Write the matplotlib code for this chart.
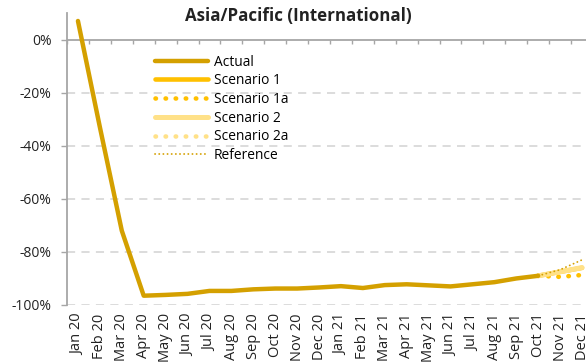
import numpy as np
import matplotlib as mpl
import matplotlib.pyplot as plt

mpl.rcParams.update({
    "font.family": ["Open Sans", "DejaVu Sans"],
    "font.size": 10,
})

months = ["Jan 20", "Feb 20", "Mar 20", "Apr 20", "May 20", "Jun 20", "Jul 20",
          "Aug 20", "Sep 20", "Oct 20", "Nov 20", "Dec 20", "Jan 21", "Feb 21",
          "Mar 21", "Apr 21", "May 21", "Jun 21", "Jul 21", "Aug 21", "Sep 21",
          "Oct 21", "Nov 21", "Dec 21"]

# actual, Jan 20 .. Oct 21 (% change)
actual = [7, -33, -72, -96.5, -96.2, -95.8, -94.7, -94.7, -94.1, -93.8, -93.8,
          -93.4, -92.9, -93.6, -92.5, -92.2, -92.6, -93.0, -92.2, -91.4, -90.0, -89.0]
# forward paths, Oct 21 .. Dec 21
scen1 = [-89.0, -87.5, -86.0]
scen1a = [-89.0, -89.4, -88.7]
scen2 = [-89.0, -87.5, -85.9]
scen2a = [-89.0, -87.6, -86.1]
reference = [-89.0, -86.7, -83.0]

yticks = [0, -20, -40, -60, -80, -100]

C_ACT = "#D4A000"
C_S1 = "#FFC000"
C_S2 = "#FFE188"
C_GRID = "#D9D9D9"
C_AX = "#A6A6A6"

fig = plt.figure(figsize=(5.86, 3.62), dpi=100)
ax = fig.add_axes([67 / 586, 57 / 362, 526 / 586, 292 / 362])

x = np.arange(len(months))
xa = x[:len(actual)]
xf = x[len(actual) - 1:]

# gridlines (dashed) and zero axis line
for yv in yticks[1:]:
    ax.axhline(yv, color=C_GRID, lw=1.3, ls=(0, (4.5, 3.5)), zorder=0)
ax.axhline(0, color=C_AX, lw=1.3, zorder=1)
ax.vlines(np.arange(len(months) + 1) - 0.5, -1.5, 0, color=C_AX, lw=1.0, zorder=1)

ax.plot(xf, scen1, color=C_S1, lw=3.3, solid_capstyle="round", label="Scenario 1", zorder=3)
ax.plot(xf, scen1a, color=C_S1, lw=3.3, ls=(0, (0.1, 2.1)), dash_capstyle="round",
        label="Scenario 1a", zorder=3)
ax.plot(xf, scen2, color=C_S2, lw=3.6, solid_capstyle="round", label="Scenario 2", zorder=4)
ax.plot(xf, scen2a, color=C_S2, lw=3.3, ls=(0, (0.1, 2.1)), dash_capstyle="round",
        label="Scenario 2a", zorder=4)
ax.plot(xf, reference, color=C_ACT, lw=1.3, ls=(0, (0.1, 2.2)), dash_capstyle="round",
        label="Reference", zorder=5)
ax.plot(xa, actual, color=C_ACT, lw=3.2, solid_capstyle="round", label="Actual", zorder=6)

ax.set_xlim(-0.5, len(months) - 0.5)
ax.set_ylim(-100, 10)

ax.set_xticks(x)
ax.set_xticklabels(months, rotation=90, color="#222222", fontsize=10.5)
ax.tick_params(axis="x", length=0, pad=6)
ax.set_yticks(yticks)
ax.set_yticklabels([f"{v}%" for v in yticks], color="#222222")
ax.tick_params(axis="y", length=4, width=1.0, color=C_AX, pad=7)

for s in ["top", "right", "bottom"]:
    ax.spines[s].set_visible(False)
ax.spines["left"].set_color(C_AX)
ax.spines["left"].set_linewidth(1.3)

handles, labels = ax.get_legend_handles_labels()
order = ["Actual", "Scenario 1", "Scenario 1a", "Scenario 2", "Scenario 2a", "Reference"]
hmap = dict(zip(labels, handles))
ax.legend([hmap[k] for k in order], order, loc="upper left",
          bbox_to_anchor=(82 / 526, 1 - 36 / 292), frameon=False,
          handlelength=3.9, handletextpad=0.4, labelspacing=0.27,
          borderaxespad=0, fontsize=9.9)

fig.text(298 / 586, 1 - 16 / 362, "Asia/Pacific (International)", ha="center",
         va="center", fontsize=12.2, fontweight="bold", color="#222222")

fig.savefig("out.png", dpi=100)
